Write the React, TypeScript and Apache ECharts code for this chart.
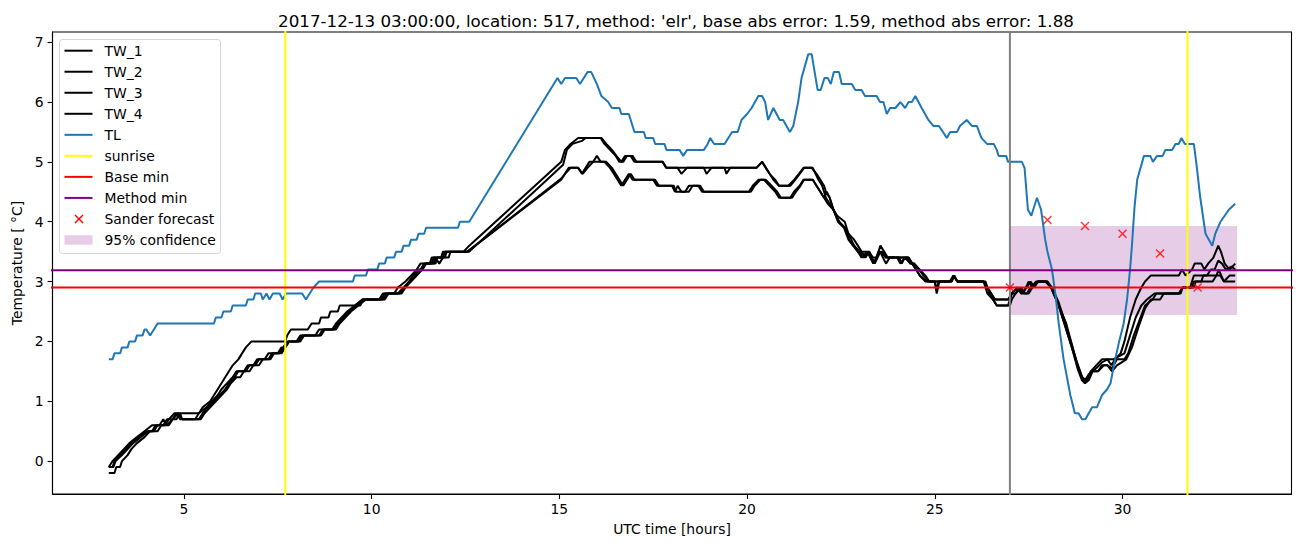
import React, { useEffect, useRef } from 'react';
import * as echarts from 'echarts';

const TITLE = "2017-12-13 03:00:00, location: 517, method: 'elr', base abs error: 1.59, method abs error: 1.88";
const X_TICKS = [5, 10, 15, 20, 25, 30];
const Y_TICKS = [0, 1, 2, 3, 4, 5, 6, 7];

const TL: number[][] = [
  [3.0,1.7],[3.1,1.7],[3.15,1.8],[3.3,1.8],[3.35,1.9],[3.5,1.9],[3.55,2.0],[3.7,2.0],[3.75,2.1],[3.9,2.1],[3.95,2.2],[4.0,2.2],[4.1,2.1],[4.2,2.2],[4.3,2.3],
  [5.8,2.3],[5.85,2.4],[6.0,2.4],[6.05,2.5],[6.25,2.5],[6.3,2.6],[6.65,2.6],[6.7,2.7],[6.85,2.7],[6.9,2.8],[7.05,2.8],[7.1,2.7],[7.2,2.8],[7.28,2.7],[7.37,2.8],[7.55,2.8],[7.63,2.7],[7.72,2.8],
  [8.15,2.8],[8.25,2.7],[8.35,2.8],[8.45,2.9],[8.6,3.0],[9.5,3.0],[9.55,3.1],[9.85,3.1],[9.9,3.2],[10.15,3.2],[10.2,3.3],[10.35,3.3],[10.4,3.4],[10.6,3.4],[10.65,3.5],[10.8,3.5],[10.85,3.6],[11.0,3.6],[11.05,3.7],[11.2,3.7],[11.25,3.8],[11.4,3.8],[11.45,3.9],[12.3,3.9],[12.35,4.0],[12.6,4.0],
  [14.95,6.4],[15.05,6.3],[15.15,6.4],[15.45,6.4],[15.55,6.3],[15.65,6.4],[15.75,6.5],[15.85,6.5],[16.0,6.3],[16.12,6.1],[16.3,6.0],[16.4,5.9],[16.6,5.9],[16.65,5.8],[16.85,5.8],[16.95,5.6],[17.0,5.5],[17.25,5.5],[17.3,5.4],[17.5,5.4],[17.55,5.3],[17.8,5.3],[17.85,5.2],[18.2,5.2],[18.3,5.1],[18.4,5.2],[18.85,5.2],[18.95,5.3],[19.02,5.4],[19.12,5.3],[19.4,5.3],[19.5,5.4],[19.6,5.5],[19.75,5.5],[19.85,5.7],[20.0,5.8],[20.12,5.9],[20.3,6.1],[20.4,6.1],[20.48,6.0],[20.56,5.7],[20.7,5.9],[20.87,5.7],[20.96,5.7],[21.14,5.5],[21.23,5.6],[21.36,6.0],[21.45,6.4],[21.63,6.8],[21.72,6.8],[21.88,6.2],[21.96,6.2],[22.06,6.4],[22.15,6.4],[22.23,6.3],[22.31,6.5],[22.45,6.5],[22.52,6.3],[22.79,6.3],[22.88,6.2],[23.05,6.2],[23.14,6.1],[23.45,6.1],[23.54,6.0],[23.63,6.0],[23.72,5.8],[23.81,5.9],[23.95,5.9],[24.08,6.0],[24.21,5.9],[24.3,6.0],[24.39,6.0],[24.48,6.1],[24.65,5.9],[24.83,5.7],[24.96,5.6],[25.11,5.6],[25.32,5.4],[25.41,5.5],[25.59,5.5],[25.67,5.6],[25.85,5.7],[25.99,5.6],[26.12,5.6],[26.24,5.4],[26.39,5.3],[26.57,5.3],[26.65,5.2],[26.7,5.1],[26.9,5.1],[26.95,5.0],[27.32,5.0],[27.39,4.9],
  [27.48,4.2],[27.57,4.1],[27.72,4.4],[27.83,4.2],[27.94,3.7],[28.0,3.5],[28.12,3.2],[28.21,2.8],[28.3,2.3],[28.43,1.7],[28.61,1.1],[28.73,0.8],[28.83,0.8],[28.92,0.7],[29.01,0.7],[29.1,0.8],[29.19,0.9],[29.32,0.9],[29.45,1.1],[29.59,1.2],[29.68,1.3],[29.77,1.6],[29.91,2.0],[30.03,2.3],[30.12,2.7],[30.2,3.2],[30.25,3.6],[30.32,4.25],[30.39,4.7],[30.57,5.1],[30.74,5.1],[30.81,5.0],[30.92,5.1],[31.07,5.1],[31.14,5.2],[31.32,5.2],[31.41,5.3],[31.5,5.3],[31.57,5.4],[31.66,5.3],[31.9,5.3],[31.98,4.9],[32.07,4.4],[32.21,3.8],[32.39,3.6],[32.47,3.8],[32.61,4.0],[32.72,4.1],[32.83,4.2],[33.0,4.3]
];

const TW_1: number[][] = [
  [3.0,-0.1],[3.1,0.0],[3.25,0.1],[3.4,0.2],[3.55,0.3],[3.75,0.4],[3.95,0.5],[4.15,0.6],[4.35,0.6],[4.45,0.7],[4.55,0.6],[4.7,0.7],[4.85,0.8],[5.4,0.8],[5.5,0.9],[5.7,1.0],[5.8,1.1],[5.9,1.2],[6.0,1.3],[6.1,1.4],[6.2,1.5],[6.3,1.6],[6.45,1.7],[6.55,1.8],[6.65,1.9],[6.8,2.0],[7.7,2.0],[7.75,2.1],[7.85,2.2],[8.3,2.2],[8.4,2.3],[8.6,2.3],[8.65,2.4],[8.85,2.4],[8.9,2.5],[9.1,2.5],[9.15,2.6],[9.7,2.6],[9.75,2.7],[10.2,2.7],[10.3,2.8],[10.6,2.8],[10.7,2.9],[10.9,3.0],[11.05,3.1],[11.2,3.2],[11.3,3.3],[11.55,3.3],[11.6,3.4],[11.85,3.4],[11.9,3.5],[12.45,3.5],[12.6,3.6],
  [15.05,5.0],[15.15,5.2],[15.3,5.3],[15.5,5.4],[16.12,5.4],[16.25,5.3],[16.4,5.2],[16.52,5.1],[16.65,5.0],[16.75,5.1],[16.95,5.1],[17.05,5.0],[17.75,5.0],[17.85,4.9],[20.25,4.9],[20.4,5.0],[20.5,4.9],[20.6,4.8],[20.7,4.7],[20.85,4.6],[21.15,4.6],[21.28,4.7],[21.4,4.8],[21.52,4.9],[21.72,4.9],[21.85,4.8],[21.95,4.7],[22.05,4.6],[22.1,4.5],[22.2,4.4],[22.3,4.2],[22.4,4.1],[22.6,4.0],[22.7,3.8],[22.85,3.7],[22.95,3.6],[23.05,3.5],[23.25,3.5],[23.35,3.4],[23.45,3.4],[23.55,3.6],[23.65,3.5],[23.75,3.4],[24.3,3.4],[24.4,3.3],[24.5,3.2],[24.6,3.1],[24.75,3.0],[25.4,3.0],[25.5,3.1],[25.6,3.0],[26.3,3.0],[26.4,2.9],[26.5,2.8],[26.6,2.7],[26.95,2.7],
  [27.05,2.8],[27.2,2.9],[27.3,2.8],[27.45,2.9],[27.55,3.0],[27.65,2.9],[27.75,3.0],[27.95,3.0],[28.1,2.9],[28.3,2.6],[28.5,2.2],[28.65,1.9],[28.8,1.55],[28.92,1.35],[29.0,1.3],[29.1,1.4],[29.15,1.5],[29.3,1.6],[29.45,1.7],[29.6,1.7],[29.7,1.6],[29.8,1.7],[29.95,1.8],[30.05,2.0],[30.2,2.4],[30.35,2.7],[30.5,2.9],[30.6,3.0],[30.75,3.1],[31.5,3.1],[31.58,3.2],[31.68,3.1],[31.85,3.2],[31.92,3.3],[32.1,3.3],[32.18,3.2],[32.28,3.3],[32.42,3.4],[32.55,3.6],[32.62,3.5],[32.72,3.3],[32.85,3.2],[33.0,3.3]
];

const TW_2: number[][] = [
  [3.0,-0.1],[3.1,-0.1],[3.15,0.0],[3.3,0.1],[3.45,0.2],[3.6,0.3],[3.8,0.4],[4.0,0.5],[4.15,0.5],[4.25,0.6],[4.5,0.6],[4.6,0.7],[4.75,0.8],[4.85,0.8],[4.95,0.7],[5.3,0.7],[5.4,0.8],[5.6,0.9],[5.75,1.0],[5.9,1.1],[6.0,1.2],[6.15,1.3],[6.3,1.4],[6.4,1.5],[6.6,1.5],[6.7,1.6],[6.85,1.6],[6.95,1.7],[7.15,1.7],[7.25,1.8],[7.5,1.8],[7.6,1.9],[7.7,1.9],[7.8,2.0],[8.0,2.0],[8.1,2.1],[8.5,2.1],[8.6,2.2],[8.95,2.2],[9.05,2.3],[9.2,2.4],[9.35,2.5],[9.55,2.6],[9.75,2.7],[10.25,2.7],[10.35,2.8],[10.7,2.8],[10.85,2.9],[11.0,3.0],[11.15,3.1],[11.3,3.2],[11.4,3.3],[11.6,3.3],[11.65,3.4],[11.9,3.4],[11.95,3.5],[12.6,3.5],
  [15.1,4.95],[15.2,5.2],[15.35,5.3],[15.6,5.35],[15.7,5.4],[16.1,5.4],[16.2,5.3],[16.35,5.2],[16.5,5.1],[16.6,5.0],[16.7,5.0],[16.8,5.1],[16.9,5.1],[17.0,5.0],[17.75,5.0],[17.85,4.9],[18.15,4.9],[18.25,4.8],[18.4,4.9],[18.85,4.9],[18.92,4.8],[19.05,4.9],[19.4,4.9],[19.45,4.8],[19.55,4.9],[20.25,4.9],[20.4,5.0],[20.5,4.9],[20.6,4.8],[20.75,4.7],[20.85,4.6],[21.1,4.6],[21.25,4.7],[21.38,4.8],[21.5,4.9],[21.75,4.9],[21.9,4.7],[22.0,4.6],[22.1,4.4],[22.2,4.3],[22.3,4.2],[22.45,4.0],[22.6,3.9],[22.72,3.7],[22.85,3.6],[23.0,3.5],[23.1,3.4],[23.25,3.5],[23.4,3.3],[23.55,3.5],[23.7,3.4],[24.25,3.4],[24.35,3.3],[24.45,3.3],[24.6,3.2],[24.75,3.1],[24.85,3.0],[25.4,3.0],[25.5,3.1],[25.6,3.0],[26.35,3.0],[26.45,2.8],[26.55,2.7],[26.65,2.6],[26.95,2.6],
  [27.05,2.8],[27.15,2.8],[27.25,2.9],[27.35,2.8],[27.5,3.0],[27.6,2.9],[27.75,3.0],[28.0,3.0],[28.1,2.9],[28.3,2.6],[28.5,2.2],[28.65,1.9],[28.8,1.6],[28.9,1.4],[29.0,1.35],[29.1,1.45],[29.3,1.55],[29.45,1.65],[29.6,1.7],[29.75,1.7],[29.9,1.75],[30.05,1.8],[30.2,2.1],[30.35,2.4],[30.5,2.6],[30.65,2.7],[30.85,2.8],[31.5,2.8],[31.6,2.9],[31.8,2.9],[31.9,3.1],[32.25,3.1],[32.35,3.2],[32.45,3.2],[32.55,3.35],[32.65,3.3],[32.75,3.2],[32.9,3.25],[33.0,3.2]
];

const TW_3: number[][] = [
  [3.0,-0.1],[3.12,-0.1],[3.18,0.0],[3.35,0.1],[3.5,0.2],[3.65,0.3],[3.85,0.4],[4.05,0.5],[4.2,0.5],[4.3,0.6],[4.45,0.6],[4.55,0.7],[4.7,0.7],[4.8,0.8],[4.9,0.7],[5.4,0.7],[5.5,0.8],[5.65,0.9],[5.8,1.0],[5.95,1.1],[6.1,1.2],[6.2,1.3],[6.35,1.4],[6.45,1.5],[6.65,1.5],[6.75,1.6],[6.9,1.6],[7.0,1.7],[7.25,1.7],[7.35,1.8],[7.55,1.8],[7.65,1.9],[7.75,2.0],[8.05,2.0],[8.15,2.1],[8.6,2.1],[8.7,2.2],[9.0,2.2],[9.1,2.3],[9.25,2.4],[9.4,2.5],[9.6,2.6],[9.8,2.7],[10.3,2.7],[10.4,2.8],[10.75,2.8],[10.9,2.9],[11.05,3.0],[11.2,3.1],[11.35,3.2],[11.45,3.3],[11.7,3.3],[11.75,3.4],[11.95,3.4],[12.0,3.5],[12.55,3.5],
  [15.05,4.72],[15.15,4.8],[15.25,4.9],[15.5,4.9],[15.6,4.8],[15.7,4.9],[15.8,5.0],[16.2,5.0],[16.35,4.9],[16.45,4.8],[16.55,4.7],[16.65,4.6],[16.75,4.7],[16.85,4.8],[16.95,4.7],[17.5,4.7],[17.6,4.6],[18.0,4.6],[18.08,4.5],[18.15,4.6],[18.25,4.5],[18.45,4.5],[18.55,4.6],[18.75,4.6],[18.85,4.5],[20.05,4.5],[20.15,4.6],[20.3,4.7],[20.45,4.7],[20.6,4.6],[20.75,4.5],[20.85,4.4],[21.2,4.4],[21.3,4.5],[21.42,4.6],[21.52,4.7],[21.75,4.7],[21.85,4.6],[21.95,4.5],[22.05,4.4],[22.12,4.5],[22.2,4.4],[22.3,4.2],[22.45,4.0],[22.6,3.9],[22.7,3.8],[22.85,3.6],[22.95,3.5],[23.05,3.5],[23.15,3.4],[23.25,3.5],[23.38,3.3],[23.5,3.5],[23.6,3.5],[23.7,3.4],[24.0,3.4],[24.08,3.3],[24.2,3.4],[24.3,3.4],[24.4,3.3],[24.5,3.2],[24.6,3.1],[24.8,3.0],[25.0,3.0],[25.05,2.8],[25.12,3.0],[25.45,3.0],[25.5,3.1],[25.6,3.0],[26.3,3.0],[26.4,2.9],[26.5,2.8],[26.6,2.7],[27.0,2.7],
  [27.05,2.8],[27.2,2.9],[27.3,2.8],[27.45,2.8],[27.55,2.9],[27.7,3.0],[27.95,3.0],[28.1,2.9],[28.3,2.6],[28.5,2.3],[28.65,1.95],[28.8,1.6],[28.92,1.4],[29.05,1.35],[29.2,1.5],[29.35,1.5],[29.5,1.6],[29.6,1.6],[29.72,1.55],[29.85,1.7],[30.05,1.7],[30.15,1.8],[30.3,2.1],[30.45,2.35],[30.6,2.6],[30.8,2.7],[30.9,2.8],[31.5,2.8],[31.6,2.9],[31.85,2.9],[31.9,3.0],[32.1,3.0],[32.15,3.1],[32.5,3.1],[32.56,3.2],[32.7,3.0],[33.0,3.0]
];

const TW_4: number[][] = [
  [3.0,-0.2],[3.15,-0.2],[3.2,-0.1],[3.3,-0.1],[3.35,0.0],[3.5,0.1],[3.6,0.2],[3.75,0.3],[3.95,0.4],[4.1,0.5],[4.3,0.5],[4.4,0.6],[4.6,0.6],[4.7,0.7],[4.8,0.7],[4.9,0.8],[4.95,0.7],[5.45,0.7],[5.55,0.8],[5.7,0.9],[5.85,1.0],[6.0,1.1],[6.15,1.2],[6.25,1.3],[6.4,1.4],[6.5,1.4],[6.6,1.5],[6.75,1.5],[6.85,1.6],[7.0,1.6],[7.1,1.7],[7.3,1.7],[7.4,1.8],[7.6,1.8],[7.7,1.9],[7.8,2.0],[8.1,2.0],[8.2,2.1],[8.65,2.1],[8.75,2.2],[9.05,2.2],[9.15,2.3],[9.3,2.4],[9.45,2.5],[9.65,2.6],[9.85,2.7],[10.35,2.7],[10.45,2.8],[10.8,2.8],[10.9,2.9],[11.0,3.0],[11.1,3.1],[11.25,3.2],[11.35,3.2],[11.45,3.3],[11.65,3.3],[11.7,3.4],[11.8,3.3],[11.9,3.4],[12.05,3.4],[12.1,3.5],[12.55,3.5],
  [15.05,4.7],[15.15,4.8],[15.3,4.9],[15.5,4.9],[15.62,4.8],[15.75,4.9],[15.9,5.0],[16.0,5.1],[16.1,5.0],[16.25,5.0],[16.4,4.9],[16.5,4.8],[16.6,4.7],[16.7,4.6],[16.8,4.7],[16.9,4.8],[17.0,4.7],[17.55,4.7],[17.65,4.6],[18.05,4.6],[18.1,4.5],[18.35,4.5],[18.45,4.6],[18.7,4.6],[18.8,4.5],[20.1,4.5],[20.2,4.6],[20.35,4.7],[20.5,4.7],[20.65,4.6],[20.8,4.5],[20.9,4.4],[21.15,4.4],[21.25,4.5],[21.4,4.6],[21.5,4.7],[21.75,4.7],[21.85,4.6],[21.95,4.5],[22.05,4.4],[22.15,4.3],[22.3,4.2],[22.42,4.0],[22.58,3.9],[22.7,3.7],[22.82,3.6],[22.95,3.5],[23.05,3.4],[23.2,3.5],[23.36,3.3],[23.54,3.5],[23.7,3.3],[23.8,3.4],[24.05,3.4],[24.12,3.3],[24.2,3.4],[24.35,3.3],[24.45,3.3],[24.58,3.2],[24.7,3.1],[24.85,3.0],[25.0,3.0],[25.05,2.85],[25.1,3.0],[25.45,3.0],[25.52,3.1],[25.6,3.0],[26.3,3.0],[26.4,2.8],[26.55,2.7],[26.65,2.6],[27.0,2.6],
  [27.05,2.7],[27.15,2.8],[27.3,2.9],[27.4,2.8],[27.5,2.8],[27.6,2.9],[27.75,3.0],[28.0,3.0],[28.12,2.9],[28.3,2.65],[28.48,2.3],[28.62,2.0],[28.76,1.7],[28.9,1.45],[29.0,1.3],[29.1,1.35],[29.2,1.5],[29.35,1.5],[29.45,1.6],[29.6,1.6],[29.72,1.5],[29.85,1.6],[30.1,1.7],[30.25,1.9],[30.43,2.25],[30.6,2.55],[30.75,2.7],[31.0,2.7],[31.1,2.8],[31.55,2.8],[31.6,2.9],[31.9,2.9],[31.95,3.0],[32.4,3.0],[32.5,3.1],[32.6,3.1],[32.7,3.0],[32.85,3.1],[33.0,3.1]
];

const SUNRISE = [7.7, 31.73];
const FORECAST_START = 27;
const BASE_MIN = 2.9;
const METHOD_MIN = 3.19;
const SANDER_HOURS = [27, 28, 29, 30, 31, 32];
const SANDER_VALUES = [2.9, 4.03, 3.93, 3.8, 3.47, 2.9];
const CONF_HOURS = [27, 33.05];
const CONF_BOUNDS = [2.44, 3.93];

const LEGEND_ITEMS = ['TW_1', 'TW_2', 'TW_3', 'TW_4', 'TL', 'sunrise', 'Base min', 'Method min', 'Sander forecast', '95% confidence'];

const X_MIN = 1.5, X_MAX = 34.5, Y_MIN = -0.55, Y_MAX = 7.17;
const FONT = 'DejaVu Sans';
const BLUE = '#1f77b4';

export default function App() {
  const ref = useRef<HTMLDivElement>(null);
  useEffect(() => {
    if (!ref.current) return;
    const chart = echarts.init(ref.current, undefined, { renderer: 'svg' });

    const lineSeries = (name: string, data: number[][], color: string) => ({
      name, type: 'line', data, showSymbol: false, symbol: 'none', clip: true,
      lineStyle: { color, width: 2 }, itemStyle: { color }, z: 3, silent: true,
    });

    const series: any[] = [
      {
        name: '95% confidence', type: 'line', data: [], z: 1, silent: true,
        markArea: {
          silent: true,
          itemStyle: { color: 'rgba(128,0,128,0.2)' },
          data: [[{ coord: [CONF_HOURS[0], CONF_BOUNDS[0]] }, { coord: [CONF_HOURS[1], CONF_BOUNDS[1]] }]],
        },
      },
      lineSeries('TW_1', TW_1, '#000000'),
      lineSeries('TW_2', TW_2, '#000000'),
      lineSeries('TW_3', TW_3, '#000000'),
      lineSeries('TW_4', TW_4, '#000000'),
      lineSeries('TL', TL, BLUE),
      lineSeries('forecast start', [[FORECAST_START, Y_MIN - 1], [FORECAST_START, Y_MAX + 1]], '#808080'),
      ...SUNRISE.map((s) => lineSeries('sunrise', [[s, Y_MIN - 1], [s, Y_MAX + 1]], '#ffff00')),
      lineSeries('Base min', [[X_MIN - 1, BASE_MIN], [X_MAX + 1, BASE_MIN]], '#ff0000'),
      lineSeries('Method min', [[X_MIN - 1, METHOD_MIN], [X_MAX + 1, METHOD_MIN]], '#800080'),
      {
        name: 'Sander forecast', type: 'scatter', z: 4, silent: true,
        data: SANDER_HOURS.map((h, i) => [h, SANDER_VALUES[i]]),
        symbol: 'path://M0,0L10,10M10,0L0,10', symbolSize: 8,
        itemStyle: { color: 'rgba(0,0,0,0)', borderColor: '#ff0000', borderWidth: 1.4 },
      },
    ];

    const lx0 = 64.5, lx1 = 92.5, ltx = 104.5, ly0 = 50.7, ldy = 21.03;
    const legendColors: Record<string, string> = {
      TW_1: '#000', TW_2: '#000', TW_3: '#000', TW_4: '#000', TL: BLUE,
      sunrise: '#ffff00', 'Base min': '#ff0000', 'Method min': '#800080',
    };
    const legendChildren: any[] = [
      { type: 'rect', shape: { x: 59.5, y: 39.5, width: 161, height: 214, r: 3 },
        style: { fill: 'rgba(255,255,255,0.8)', stroke: 'rgba(204,204,204,0.8)', lineWidth: 1 } },
    ];
    LEGEND_ITEMS.forEach((name, i) => {
      const cy = ly0 + i * ldy;
      if (legendColors[name]) {
        legendChildren.push({ type: 'line', shape: { x1: lx0, y1: cy, x2: lx1, y2: cy },
          style: { stroke: legendColors[name], lineWidth: 2 } });
      } else if (name === 'Sander forecast') {
        const cx = (lx0 + lx1) / 2 + 0.5, r = 4;
        legendChildren.push({ type: 'line', shape: { x1: cx - r, y1: cy - r, x2: cx + r, y2: cy + r }, style: { stroke: '#ff0000', lineWidth: 1.4 } });
        legendChildren.push({ type: 'line', shape: { x1: cx - r, y1: cy + r, x2: cx + r, y2: cy - r }, style: { stroke: '#ff0000', lineWidth: 1.4 } });
      } else {
        legendChildren.push({ type: 'rect', shape: { x: lx0, y: cy - 4.7, width: lx1 - lx0, height: 9.4 },
          style: { fill: 'rgba(128,0,128,0.2)' } });
      }
      legendChildren.push({ type: 'text', x: ltx, y: cy,
        style: { text: name, fill: '#000', font: `13.9px '${FONT}'`, textVerticalAlign: 'middle', textAlign: 'left' } });
    });

    const option: any = {
      animation: false,
      backgroundColor: '#ffffff',
      textStyle: { fontFamily: FONT },
      title: {
        text: TITLE, left: 671, top: 7, textAlign: 'center',
        textStyle: { fontFamily: FONT, fontSize: 16.7, fontWeight: 'normal', color: '#000' },
      },
      grid: { left: 52.5, top: 32, width: 1239, height: 462, show: true, borderColor: '#000', borderWidth: 1.1, backgroundColor: 'transparent' },
      xAxis: {
        type: 'value', min: X_MIN, max: X_MAX,
        name: 'UTC time [hours]', nameLocation: 'middle', nameGap: 28,
        nameTextStyle: { fontFamily: FONT, fontSize: 13.9, color: '#000' },
        axisLine: { show: true, onZero: false, lineStyle: { color: '#000', width: 1.1 } },
        axisTick: { show: true, customValues: X_TICKS, length: 4.9, lineStyle: { color: '#000', width: 1.1 } },
        axisLabel: { customValues: X_TICKS, margin: 8, fontFamily: FONT, fontSize: 13.9, color: '#000' },
        splitLine: { show: false },
      },
      yAxis: {
        type: 'value', min: Y_MIN, max: Y_MAX,
        name: 'Temperature [ °C]', nameLocation: 'middle', nameGap: 27, nameRotate: 90,
        nameTextStyle: { fontFamily: FONT, fontSize: 13.9, color: '#000' },
        axisLine: { show: true, onZero: false, lineStyle: { color: '#000', width: 1.1 } },
        axisTick: { show: true, customValues: Y_TICKS, length: 4.9, lineStyle: { color: '#000', width: 1.1 } },
        axisLabel: { customValues: Y_TICKS, margin: 9, fontFamily: FONT, fontSize: 13.9, color: '#000' },
        splitLine: { show: false },
      },
      series,
      graphic: [{ type: 'group', z: 100, children: legendChildren }],
    };
    chart.setOption(option);
    return () => chart.dispose();
  }, []);

  return <div ref={ref} style={{ position: 'fixed', left: 0, top: 0, width: 1302, height: 547, background: '#fff' }} />;
}
